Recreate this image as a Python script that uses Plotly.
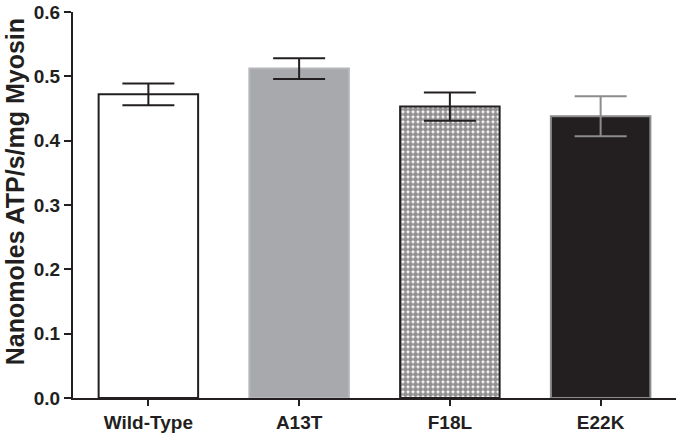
import plotly.graph_objects as go

categories = ["Wild-Type", "A13T", "F18L", "E22K"]
values = [0.472, 0.512, 0.453, 0.438]
errors = [0.017, 0.016, 0.022, 0.031]
y_ticks = [0.0, 0.1, 0.2, 0.3, 0.4, 0.5, 0.6]
y_title = "Nanomoles ATP/s/mg Myosin"

fills = ["#ffffff", "#a7a9ac", "#ffffff", "#231f20"]
edges = ["#231f20", "#b4b6b9", "#231f20", "#8c8c8c"]
err_colors = ["#231f20", "#231f20", "#231f20", "#8c8c8c"]
patterns = ["", "", ".", ""]

fig = go.Figure()
for i, cat in enumerate(categories):
    pat = dict(shape=patterns[i])
    if patterns[i]:
        pat = dict(shape=patterns[i], fgcolor="#231f20", bgcolor="#ffffff",
                   size=5, solidity=0.75, fillmode="overlay")
    fig.add_trace(go.Bar(
        x=[cat], y=[values[i]], width=0.66,
        marker=dict(color=fills[i], line=dict(color=edges[i], width=2), pattern=pat),
        error_y=dict(type="data", array=[errors[i]], visible=True,
                     color=err_colors[i], thickness=2, width=26),
        showlegend=False,
    ))

font_family = "Liberation Sans, Arial, sans-serif"
fig.update_layout(
    template="none",
    width=676, height=433,
    margin=dict(l=73, r=0, t=12, b=35, pad=0),
    barmode="overlay",
    plot_bgcolor="#ffffff", paper_bgcolor="#ffffff",
    font=dict(family=font_family, color="#231f20"),
    xaxis=dict(type="category", categoryorder="array", categoryarray=categories,
               range=[-0.5, 3.5], showline=True, linecolor="#231f20", linewidth=2,
               ticks="outside", ticklen=6, tickwidth=2, tickcolor="#231f20",
               showgrid=False, zeroline=False, automargin=False,
               tickfont=dict(size=19, family=font_family, color="#231f20", weight="bold")),
    yaxis=dict(range=[0, 0.6], tickvals=y_ticks, tickformat=".1f",
               showline=True, linecolor="#231f20", linewidth=2,
               ticks="outside", ticklen=7, tickwidth=2, tickcolor="#231f20",
               showgrid=False, zeroline=False, automargin=False,
               tickfont=dict(size=19, family=font_family, color="#231f20", weight="bold")),
    annotations=[dict(text=y_title, textangle=-90, xref="paper", yref="paper",
                      x=-0.095, y=0.535, xanchor="center", yanchor="middle",
                      showarrow=False,
                      font=dict(size=25, family=font_family, color="#231f20", weight="bold"))],
)

fig.write_html("out.html", config={"displayModeBar": False},
               post_script="document.body.style.margin='0';document.body.style.padding='0';")
